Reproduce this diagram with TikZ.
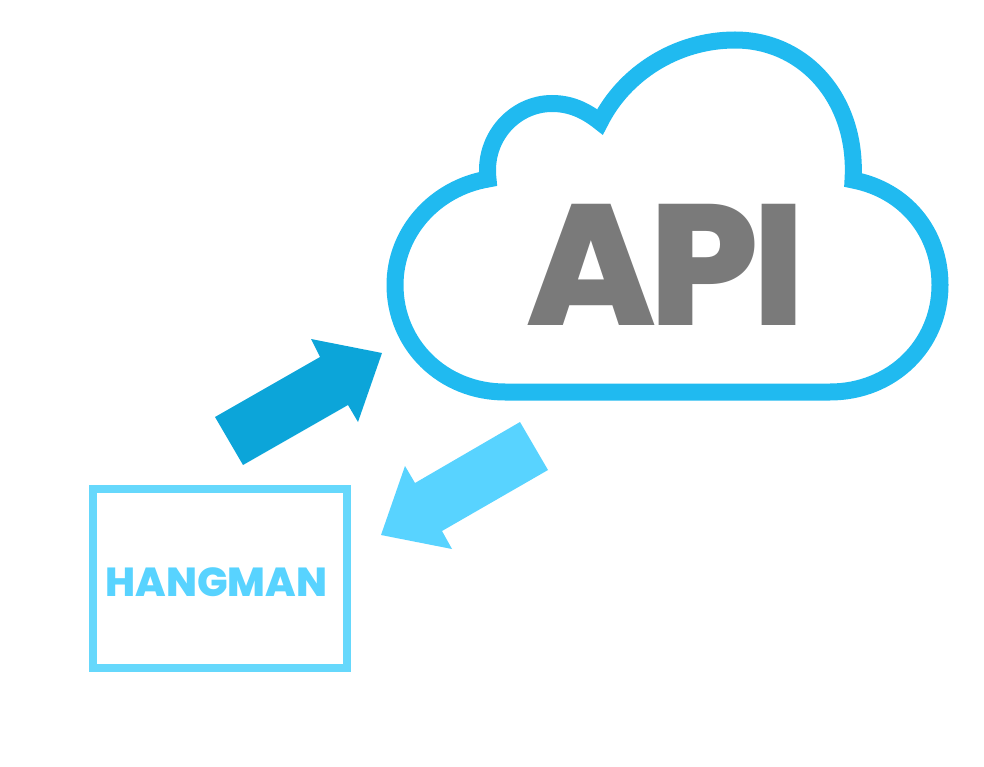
\documentclass[tikz,border=0pt]{standalone}
\usepackage{fontspec}
\setmainfont{Poppins}
\newfontfamily\heavyfont{Poppins ExtraBold}
\newfontfamily\heavytight[LetterSpace=-4]{Poppins ExtraBold}
\usepackage{tikz}
\usetikzlibrary{positioning}
\definecolor{cloudblue}{HTML}{20BAF0}
\definecolor{darkarrow}{HTML}{0CA5D9}
\definecolor{lightblue}{HTML}{58D3FF}
\definecolor{boxblue}{HTML}{66D8FC}
\definecolor{apigray}{HTML}{7A7A7A}
\begin{document}
\begin{tikzpicture}[
      x=1pt, y=-1pt,
      cloud/.style={draw=cloudblue, line width=17pt, line join=miter},
      block/.style={-, fill=#1, draw=none},
      hangbox/.style={draw=boxblue, line width=8pt, minimum width=254pt, minimum height=179pt, inner sep=0pt},
      hangtext/.style={text=lightblue, font=\heavyfont\fontsize{40.5}{40.5}\selectfont},
      apitext/.style={text=apigray, font=\heavytight\fontsize{172}{172}\selectfont, inner sep=0pt}
    ]
    \useasboundingbox (0,0) rectangle (984,767);

    % Cloud
    \draw[cloud] (600,122)
      .. controls (624,74) and (676,40) .. (735,40)
      .. controls (805,40) and (858,100) .. (853,180)
      .. controls (905,190) and (940,232) .. (940,285)
      .. controls (940,345) and (892,392) .. (830,392)
      -- (505,392)
      .. controls (443,392) and (395,345) .. (395,285)
      .. controls (395,232) and (435,188) .. (488,179)
      .. controls (483,137) and (515,103.5) .. (552,103.5)
      .. controls (570,103.5) and (585,110) .. (600,122) -- cycle;
    \node[apitext] (api) at (666,265) {API};

    % Box
    \node[hangbox] (hangman) at (220,578.5) {};
    \node[hangtext] (hangmanText) at (216.5,582) {HANGMAN};

    % Arrows
    \fill[block=darkarrow] (215,417) -- (320,357) -- (311,339) -- (382,353) -- (358,422) -- (348,405) -- (243,465) -- cycle;
    \fill[block=lightblue] (520,422) -- (415,483) -- (405,466) -- (381,535) -- (452,549) -- (442,531) -- (548,470) -- cycle;
  \end{tikzpicture}
\end{document}
